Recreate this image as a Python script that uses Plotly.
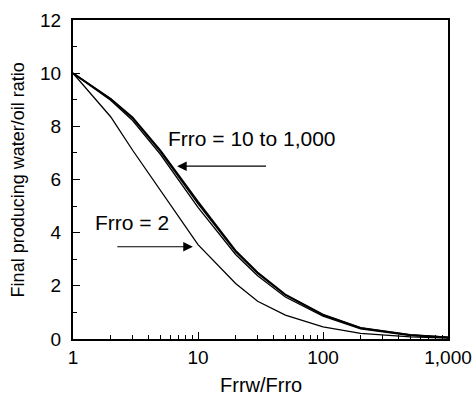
import plotly.graph_objects as go
import numpy as np

frrw_frro = [1, 2, 3, 5, 10, 20, 30, 50, 100, 200, 500, 1000]
wor_frro2 = [10.0, 8.36, 7.1, 5.6, 3.55, 2.09, 1.42, 0.9, 0.46, 0.21, 0.08, 0.03]
wor_frro10 = [10.0, 8.98, 8.22, 6.95, 4.95, 3.18, 2.38, 1.58, 0.86, 0.38, 0.13, 0.05]
wor_frro100 = [10.0, 9.02, 8.30, 7.05, 5.10, 3.28, 2.47, 1.65, 0.90, 0.41, 0.15, 0.06]
wor_frro1000 = [10.0, 9.04, 8.34, 7.10, 5.17, 3.33, 2.51, 1.68, 0.92, 0.42, 0.16, 0.06]

series = [
    ("Frro = 2", wor_frro2, 1.3),
    ("Frro = 10", wor_frro10, 1.3),
    ("Frro = 100", wor_frro100, 1.6),
    ("Frro = 1000", wor_frro1000, 1.6),
]

fig = go.Figure()
for name, ys, w in series:
    fig.add_trace(go.Scatter(x=frrw_frro, y=ys, mode="lines", name=name,
                             line=dict(color="black", width=w)))

font = "Liberation Sans, Arial, sans-serif"
fig.update_layout(
    width=475, height=395,
    margin=dict(l=73, r=27, t=20, b=56),
    paper_bgcolor="white", plot_bgcolor="white",
    showlegend=False,
    font=dict(family=font, color="black", size=19),
)
fig.update_xaxes(
    type="log", range=[0, 3], automargin=False,
    tickvals=[1, 10, 100, 1000], ticktext=["1", "10", "100", "1,000"],
    ticks="inside", ticklen=7, tickwidth=1, tickcolor="black",
    minor=dict(ticks="inside", ticklen=4, tickwidth=1, tickcolor="black",
               tickvals=[2, 3, 4, 5, 6, 7, 8, 9, 20, 30, 40, 50, 60, 70, 80, 90,
                         200, 300, 400, 500, 600, 700, 800, 900]),
    showline=True, linecolor="black", linewidth=2, mirror=True,
    showgrid=False, zeroline=False,
    tickfont=dict(size=19),
)
fig.update_yaxes(
    range=[0, 12], automargin=False, tickvals=[0, 2, 4, 6, 8, 10, 12],
    ticks="inside", ticklen=7, tickwidth=1, tickcolor="black",
    minor=dict(ticks="inside", ticklen=4, tickwidth=1, tickcolor="black",
               tickvals=[1, 3, 5, 7, 9, 11]),
    showline=True, linecolor="black", linewidth=2, mirror=True,
    showgrid=False, zeroline=False,
    ticklabelstandoff=6,
    tickfont=dict(size=19),
)

# axis titles
fig.add_annotation(xref="paper", yref="paper", x=0.5, y=-0.143, yanchor="middle",
                   text="Frrw/Frro", showarrow=False, font=dict(size=20))
fig.add_annotation(xref="paper", yref="paper", x=-0.147, y=0.5, xanchor="center",
                   text="Final producing water/oil ratio", textangle=-90,
                   showarrow=False, font=dict(size=18))

fig.add_annotation(x=np.log10(27), y=7.56, text="Frro = 10 to 1,000", showarrow=False,
                   font=dict(size=21))
fig.add_annotation(x=np.log10(6.8), y=6.5, ax=np.log10(36), ay=6.5,
                   axref="x", ayref="y", xref="x", yref="y", text="",
                   showarrow=True, arrowhead=2, arrowsize=1.6, arrowwidth=1.2,
                   arrowcolor="black")
fig.add_annotation(x=np.log10(2.96), y=4.4, text="Frro = 2", showarrow=False,
                   font=dict(size=21))
fig.add_annotation(x=np.log10(9.1), y=3.47, ax=np.log10(2.2), ay=3.47,
                   axref="x", ayref="y", xref="x", yref="y", text="",
                   showarrow=True, arrowhead=2, arrowsize=1.6, arrowwidth=1.2,
                   arrowcolor="black")

fig.write_html("out.html", config={"displayModeBar": False},
               post_script="document.body.style.margin='0';document.body.style.overflow='hidden';")
